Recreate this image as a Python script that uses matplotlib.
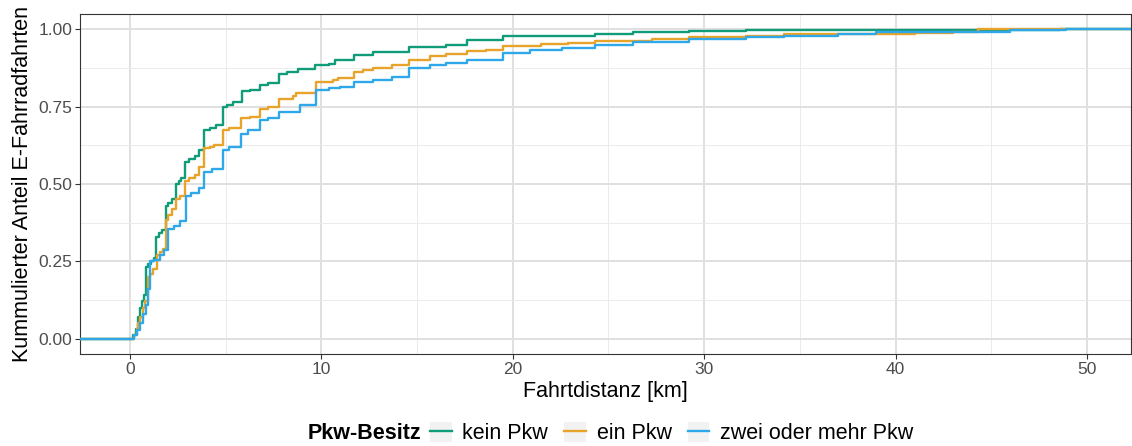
import numpy as np
import matplotlib.pyplot as plt
from matplotlib.patches import Rectangle
from matplotlib.lines import Line2D

plt.rcParams['font.family'] = ['Liberation Sans', 'DejaVu Sans']

# cumulative share of e-bike trips by trip distance (km), step positions
kein_km = [0.17, 0.30, 0.45, 0.52, 0.62, 0.75, 0.87, 0.95, 1.1, 1.25, 1.39, 1.5, 1.7,
           1.88, 2.0, 2.2, 2.43, 2.55, 2.7, 2.87, 3.1, 3.4, 3.6, 3.86, 4.2, 4.5, 4.87,
           5.1, 5.4, 5.86, 6.3, 6.8, 7.2, 7.8, 8.2, 8.8, 9.7, 10.4, 10.7, 11.7, 12.7,
           14.6, 16.5, 17.6, 19.5, 24.3, 26.3, 29.2, 32.2, 48.6]
kein_f = [0.01, 0.03, 0.07, 0.10, 0.12, 0.14, 0.23, 0.24, 0.25, 0.26, 0.33, 0.34, 0.35,
          0.43, 0.44, 0.45, 0.50, 0.51, 0.52, 0.57, 0.58, 0.59, 0.61, 0.674, 0.68, 0.69, 0.75,
          0.755, 0.766, 0.80, 0.805, 0.82, 0.828, 0.857, 0.862, 0.873, 0.884, 0.889, 0.90, 0.916, 0.927,
          0.943, 0.95, 0.965, 0.98, 0.986, 0.991, 0.995, 0.998, 1.0]

ein_km = [0.2, 0.35, 0.45, 0.55, 0.7, 0.8, 0.96, 1.05, 1.2, 1.4, 1.6, 1.75, 1.9, 2.0,
          2.2, 2.4, 2.6, 2.87, 3.1, 3.4, 3.6, 3.9, 4.2, 4.4, 4.87, 5.2, 5.83, 6.3, 6.8,
          7.2, 7.8, 8.5, 8.7, 9.74, 10.6, 10.9, 11.7, 12.2, 12.7, 13.7, 14.6, 15.7, 16.5,
          17.6, 18.6, 19.5, 21.5, 22.9, 24.3, 27.3, 29.2, 32.2, 34.2, 37.0, 41.0, 43.0, 44.3]
ein_f = [0.01, 0.03, 0.05, 0.07, 0.10, 0.12, 0.20, 0.21, 0.226, 0.27, 0.28, 0.29, 0.385, 0.40,
         0.42, 0.45, 0.46, 0.51, 0.52, 0.53, 0.556, 0.615, 0.62, 0.626, 0.674, 0.68, 0.712, 0.717, 0.744,
         0.75, 0.776, 0.785, 0.795, 0.83, 0.835, 0.843, 0.862, 0.868, 0.876, 0.884, 0.902, 0.913, 0.92,
         0.929, 0.934, 0.948, 0.952, 0.956, 0.963, 0.97, 0.975, 0.978, 0.984, 0.986, 0.99, 0.993, 1.0]

zwei_km = [0.2, 0.4, 0.55, 0.7, 0.85, 0.96, 1.04, 1.25, 1.6, 1.8, 2.0, 2.3, 2.6, 2.92,
           3.2, 3.6, 3.9, 4.3, 4.87, 5.2, 5.83, 6.2, 6.8, 7.2, 7.8, 8.9, 9.74, 10.4, 11.0,
           11.7, 12.7, 13.7, 14.6, 15.7, 16.5, 17.6, 19.5, 20.9, 22.6, 24.3, 26.3, 29.2,
           32.2, 34.2, 37.0, 39.0, 46.0, 48.9]
zwei_f = [0.01, 0.027, 0.05, 0.08, 0.11, 0.16, 0.25, 0.255, 0.27, 0.285, 0.355, 0.365, 0.38, 0.46,
          0.47, 0.486, 0.54, 0.55, 0.61, 0.62, 0.663, 0.674, 0.706, 0.715, 0.733, 0.755, 0.803, 0.81, 0.814,
          0.83, 0.838, 0.846, 0.875, 0.884, 0.891, 0.90, 0.925, 0.934, 0.94, 0.95, 0.959, 0.97,
          0.975, 0.98, 0.984, 0.991, 0.997, 1.0]

labels = ['kein Pkw', 'ein Pkw', 'zwei oder mehr Pkw']
colors = ['#109C79', '#E8A32A', '#2FA8E9']
series = [(kein_km, kein_f), (ein_km, ein_f), (zwei_km, zwei_f)]

fig = plt.figure(figsize=(11.32, 4.46), dpi=100)
ax = fig.add_axes([0.0707, 0.2063, 0.9284, 0.7623])

xlo, xhi = -2.6, 52.3
ax.set_xlim(xlo, xhi)
ax.set_ylim(-0.05, 1.05)

# ecdf steps padded out to the panel edges
for (km, f), c in zip(series, colors):
    x = np.r_[xlo, km, xhi]
    y = np.r_[0.0, f, 1.0]
    ax.plot(x, y, drawstyle='steps-post', color=c, lw=1.7, zorder=3)

ax.set_xticks([0, 10, 20, 30, 40, 50])
ax.set_xticks([5, 15, 25, 35, 45], minor=True)
ax.set_yticks([0, 0.25, 0.5, 0.75, 1.0])
ax.set_yticklabels(['0.00', '0.25', '0.50', '0.75', '1.00'])
ax.set_yticks([0.125, 0.375, 0.625, 0.875], minor=True)

ax.grid(which='major', color='#E0E0E0', lw=1.4, zorder=0)
ax.grid(which='minor', color='#EBEBEB', lw=0.7, zorder=0)
ax.set_axisbelow(True)

for s in ax.spines.values():
    s.set_color('#333333')
    s.set_linewidth(0.8)

ax.tick_params(which='major', length=3.6, width=0.8, color='#333333',
               labelsize=12.5, labelcolor='#4D4D4D', pad=2)
ax.tick_params(which='minor', length=0)

ax.set_xlabel('Fahrtdistanz [km]', fontsize=15.5, labelpad=3)
ax.set_ylabel('Kummulierter Anteil E-Fahrradfahrten', fontsize=15.5, labelpad=4)

# legend: grey key boxes with a short line in each
handles = [(Rectangle((0, 0), 1, 1, facecolor='#F2F2F2', edgecolor='none'),
            Line2D([], [], color=c, lw=1.7)) for c in colors]
fig.text(0.372, 0.029, 'Pkw-Besitz', fontsize=15.5, fontweight='bold',
         ha='right', va='center')
fig.legend(handles, labels, loc='center left', bbox_to_anchor=(0.380, 0.029),
           ncol=3, frameon=False, fontsize=15.5, handlelength=1.0, handleheight=1.1,
           handletextpad=0.5, columnspacing=0.75, borderpad=0, borderaxespad=0)

fig.savefig('out.png', dpi=100)
